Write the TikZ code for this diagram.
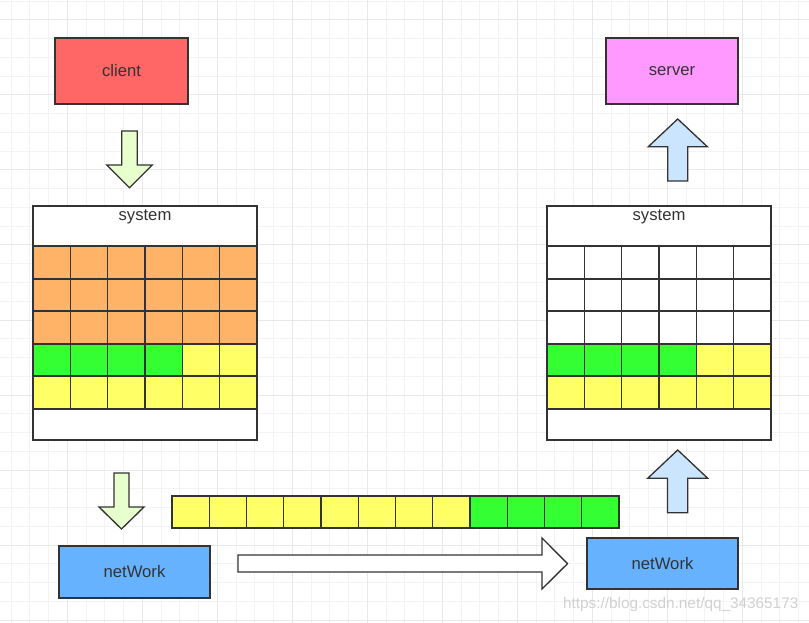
\documentclass[tikz,border=0pt]{standalone}
\usepackage{fontspec}
\setmainfont{Liberation Sans}

\definecolor{edge}{RGB}{51,51,51}
\definecolor{clientred}{RGB}{255,102,102}
\definecolor{serverpink}{RGB}{255,153,255}
\definecolor{netblue}{RGB}{102,178,255}
\definecolor{cellorange}{RGB}{255,179,102}
\definecolor{cellgreen}{RGB}{51,255,51}
\definecolor{cellyellow}{RGB}{255,255,102}
\definecolor{downgreen}{RGB}{230,255,204}
\definecolor{upblue}{RGB}{204,229,255}
\definecolor{gridminor}{RGB}{243,243,243}
\definecolor{gridmajor}{RGB}{232,232,232}

\tikzset{every picture/.style={line width=1pt}}
\tikzset{
  label text/.style={inner sep=0.75pt, text=edge, font=\fontsize{12.5}{14}\selectfont},
  shape line/.style={draw=edge, line join=miter},
}

\begin{document}
\begin{tikzpicture}[x=0.75pt,y=0.75pt,yscale=-1,xscale=1]
\useasboundingbox (0,0) rectangle (809,623);
\fill [white] (0,0) rectangle (809,623);

%Background grid
\foreach \gx in {11.05,29.8,...,809} \draw [gridminor, line width=0.75pt] (\gx,0) -- (\gx,623);
\foreach \gy in {1.25,20,...,623} \draw [gridminor, line width=0.75pt] (0,\gy) -- (809,\gy);
\foreach \gx in {67.3,142.3,...,809} \draw [gridmajor, line width=0.75pt] (\gx,0) -- (\gx,623);
\foreach \gy in {20,95,...,623} \draw [gridmajor, line width=0.75pt] (0,\gy) -- (809,\gy);

%Shape: Rectangle client
\draw [shape line, fill=clientred] (55,38) rectangle (188,104);
%Shape: Rectangle server
\draw [shape line, fill=serverpink] (606,38) rectangle (738,104);
%Shape: Rectangle netWork left
\draw [shape line, fill=netblue] (59,546) rectangle (210,598);
%Shape: Rectangle netWork right
\draw [shape line, fill=netblue] (587,538) rectangle (738,589);

%Shape: Down Arrow below client
\draw [shape line, fill=downgreen] (121.7,131) -- (137.3,131) -- (137.3,165) -- (152.3,165) -- (129.5,187.7) -- (106.7,165) -- (121.7,165) -- cycle ;
%Shape: Down Arrow below system
\draw [shape line, fill=downgreen] (114,473) -- (129,473) -- (129,507) -- (144,507) -- (121.5,529) -- (99,507) -- (114,507) -- cycle ;
%Shape: Up Arrow to server
\draw [shape line, fill=upblue] (667.7,181) -- (687.7,181) -- (687.7,146.7) -- (707.3,146.7) -- (677.7,119) -- (648.3,146.7) -- (667.7,146.7) -- cycle ;
%Shape: Up Arrow to system
\draw [shape line, fill=upblue] (667.5,512.7) -- (687.7,512.7) -- (687.7,478.3) -- (707.7,478.3) -- (677.7,450) -- (647.7,478.3) -- (667.5,478.3) -- cycle ;
%Shape: Right Arrow
\draw [shape line, fill=white] (238,555) -- (542,555) -- (542,538) -- (567.5,563.7) -- (542,589) -- (542,572) -- (238,572) -- cycle ;

%Shape: system left
\draw [shape line, fill=white] (33,206) rectangle (257,440);
\fill [cellorange] (33,246) rectangle (257,344);
\fill [cellgreen] (33,344) rectangle (182.3,376);
\fill [cellyellow] (182.3,344) rectangle (257,376);
\fill [cellyellow] (33,376) rectangle (257,409);
\draw [edge] (33,246) -- (257,246) (33,279) -- (257,279) (33,311) -- (257,311) (33,344) -- (257,344) (33,376) -- (257,376) (33,409) -- (257,409) ;
\draw [edge] (70.3,246) -- (70.3,409) (107.7,246) -- (107.7,409) (145,246) -- (145,409) (182.3,246) -- (182.3,409) (219.7,246) -- (219.7,409) ;
\draw [shape line] (33,206) rectangle (257,440);

%Shape: system right
\draw [shape line, fill=white] (547,206) rectangle (771,440);
\fill [cellgreen] (547,344) rectangle (696.3,376);
\fill [cellyellow] (696.3,344) rectangle (771,376);
\fill [cellyellow] (547,376) rectangle (771,409);
\draw [edge] (547,246) -- (771,246) (547,279) -- (771,279) (547,311) -- (771,311) (547,344) -- (771,344) (547,376) -- (771,376) (547,409) -- (771,409) ;
\draw [edge] (584.3,246) -- (584.3,409) (621.7,246) -- (621.7,409) (659,246) -- (659,409) (696.3,246) -- (696.3,409) (733.7,246) -- (733.7,409) ;
\draw [shape line] (547,206) rectangle (771,440);

%Shape: packet strip
\fill [cellyellow] (172,496) rectangle (470,528);
\fill [cellgreen] (470,496) rectangle (619,528);
\draw [edge] (209.25,496) -- (209.25,528) (246.5,496) -- (246.5,528) (283.75,496) -- (283.75,528) (321,496) -- (321,528) (358.25,496) -- (358.25,528) (395.5,496) -- (395.5,528) (432.75,496) -- (432.75,528) (470,496) -- (470,528) (507.25,496) -- (507.25,528) (544.5,496) -- (544.5,528) (581.75,496) -- (581.75,528) ;
\draw [shape line] (172,496) rectangle (619,528);

% Text Node
\node [label text] (client) at (121.5,71) {client};
% Text Node
\node [label text] (server) at (672,71) {server};
% Text Node
\node [label text] (sysleft) at (145,217) {system};
% Text Node
\node [label text] (sysright) at (659,217) {system};
% Text Node
\node [label text] (netleft) at (134.5,572) {netWork};
% Text Node
\node [label text] (netright) at (662.5,563.5) {netWork};
% Text Node
\node [label text, text=black!18, anchor=east, font=\fontsize{11.5}{13}\selectfont] (mark) at (800,605) {https://blog.csdn.net/qq\_34365173};

\end{tikzpicture}
\end{document}
